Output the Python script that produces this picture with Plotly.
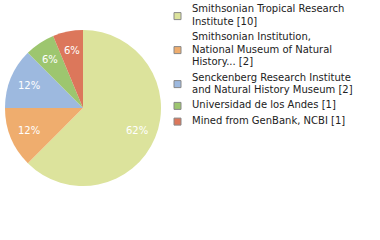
import math
import plotly.graph_objects as go

labels = ["Smithsonian Tropical Research Institute",
          "Smithsonian Institution, National Museum of Natural History...",
          "Senckenberg Research Institute and Natural History Museum",
          "Universidad de los Andes",
          "Mined from GenBank, NCBI"]
values = [10, 2, 2, 1, 1]
legend_lines = [["Smithsonian Tropical Research", "Institute [10]"],
                ["Smithsonian Institution,", "National Museum of Natural", "History... [2]"],
                ["Senckenberg Research Institute", "and Natural History Museum [2]"],
                ["Universidad de los Andes [1]"],
                ["Mined from GenBank, NCBI [1]"]]
colors = ["#dce39c", "#efad6e", "#9db9df", "#9dc66f", "#dc775b"]

W, H = 380, 240
PX0, PX1, PY0, PY1 = 5, 161, 30, 186
total = sum(values)
pct_text = [f"{int(v * 100 / total)}%" for v in values]

fig = go.Figure(go.Pie(
    labels=labels, values=values, textinfo="none",
    sort=False, direction="clockwise", rotation=0,
    marker=dict(colors=colors, line=dict(width=0)),
    domain=dict(x=[PX0 / W, PX1 / W], y=[1 - PY1 / H, 1 - PY0 / H]),
    showlegend=False, hoverinfo="none"))

annotations = []
# percentage labels placed at 0.75 of the radius, at each slice's mid angle
cx, cy, R = (PX0 + PX1) / 2, (PY0 + PY1) / 2, (PX1 - PX0) / 2
cum = 0
for v, t in zip(values, pct_text):
    mid = (cum + v / 2) / total * 2 * math.pi
    cum += v
    lx = cx + 0.75 * R * math.sin(mid)
    ly = cy - 0.75 * R * math.cos(mid)
    annotations.append(dict(x=lx / W, y=1 - ly / H, xref="paper", yref="paper",
                            text=t, showarrow=False, xanchor="center", yanchor="middle",
                            font=dict(family="DejaVu Sans", size=10, color="white")))

shapes = []
line_h = 12.2
y = 9
for lines, col in zip(legend_lines, colors):
    n = len(lines)
    ymid = y + (n - 1) * line_h / 2 + 1
    shapes.append(dict(type="rect", xref="paper", yref="paper",
                       x0=174 / W, x1=181 / W, y0=1 - (ymid - 3.5) / H, y1=1 - (ymid + 3.5) / H,
                       fillcolor=col, line=dict(color="#888888", width=1)))
    for i, t in enumerate(lines):
        annotations.append(dict(x=190 / W, y=1 - (y + i * line_h) / H, xref="paper", yref="paper",
                                text=t, showarrow=False, xanchor="left", yanchor="middle",
                                font=dict(family="DejaVu Sans", size=10, color="#222222")))
    y += n * line_h + 3.5

fig.update_layout(width=W, height=H, margin=dict(l=0, r=0, t=0, b=0),
                  paper_bgcolor="white", plot_bgcolor="white",
                  shapes=shapes, annotations=annotations)
fig.write_html("out.html")
